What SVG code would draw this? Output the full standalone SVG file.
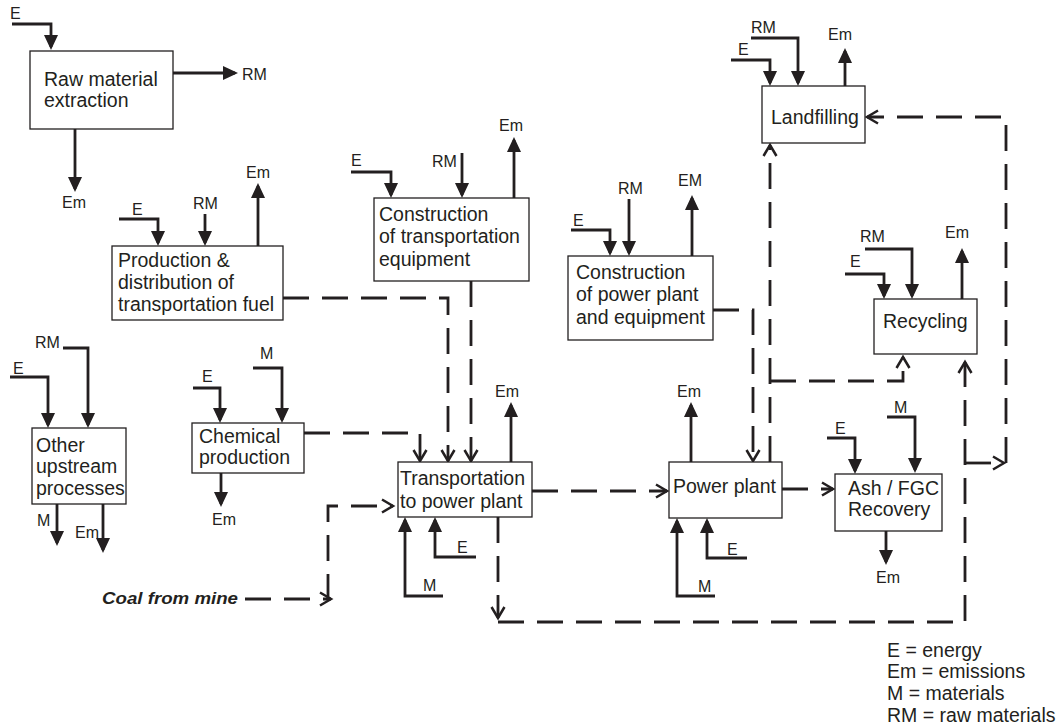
<svg xmlns="http://www.w3.org/2000/svg" width="1063" height="727" viewBox="0 0 1063 727">
<style>
.box{fill:#fff;stroke:#231f20;stroke-width:1.3}
.t{font-family:"Liberation Sans",Arial,sans-serif;font-size:19.5px;fill:#231f20}
.l{font-family:"Liberation Sans",Arial,sans-serif;font-size:16px;fill:#231f20}
.s{fill:none;stroke:#231f20;stroke-width:2.8;marker-end:url(#arr)}
.p{fill:none;stroke:#231f20;stroke-width:2.8}
.d{fill:none;stroke:#231f20;stroke-width:2.8;stroke-dasharray:26 13;marker-end:url(#chev)}
.coal{font-family:"Liberation Sans",Arial,sans-serif;font-size:17px;font-weight:bold;font-style:italic;fill:#231f20}
</style>
<defs>
<marker id="arr" markerUnits="userSpaceOnUse" markerWidth="16" markerHeight="15" refX="12" refY="7" orient="auto" overflow="visible">
<path d="M0,0 L15,7 L0,14 Z" fill="#231f20" stroke="none"/>
</marker>
<marker id="chev" markerUnits="userSpaceOnUse" markerWidth="14" markerHeight="16" refX="11" refY="6.5" orient="auto" overflow="visible">
<path d="M0,0 L11,6.5 L0,13" fill="none" stroke="#231f20" stroke-width="2.5" stroke-dasharray="none"/>
</marker>
</defs>
<rect width="1063" height="727" fill="#fff"/>

<g id="connectors">
<g id="flows">
<path class="s" d="M12,24 H51 V47"/>
<path class="s" d="M173,73 H235"/>
<path class="s" d="M75,129 V189"/>
<path class="s" d="M119,219 H158 V243"/>
<path class="s" d="M205,214 V243"/>
<path class="s" d="M258,246 V186"/>
<path class="s" d="M351,172 H391 V195"/>
<path class="s" d="M462,153 V195"/>
<path class="s" d="M514,198 V140"/>
<path class="s" d="M571,230 H610 V253"/>
<path class="s" d="M629,199 V253"/>
<path class="s" d="M692,256 V198"/>
<path class="s" d="M731,60 H770 V83"/>
<path class="s" d="M751,38 H798 V83"/>
<path class="s" d="M845,86 V51"/>
<path class="s" d="M845,274 H884 V296"/>
<path class="s" d="M865,249 H912 V296"/>
<path class="s" d="M962,299 V251"/>
<path class="s" d="M10,377 H48 V425"/>
<path class="s" d="M63,348 H88 V425"/>
<path class="s" d="M57,504 V543"/>
<path class="s" d="M103,504 V550"/>
<path class="s" d="M193,388 H220 V420"/>
<path class="s" d="M253,368 H282 V420"/>
<path class="s" d="M221,473 V504"/>
<path class="s" d="M511,462 V405"/>
<path class="s" d="M443,596 H405 V520"/>
<path class="s" d="M476,557 H435 V520"/>
<path class="s" d="M691,462 V405"/>
<path class="s" d="M715,596 H677 V521"/>
<path class="s" d="M747,558 H707 V521"/>
<path class="s" d="M827,438 H855 V471"/>
<path class="s" d="M887,417 H915 V470"/>
<path class="s" d="M886,531 V562"/>
</g>
<g id="links">
<path class="d" d="M283,298 H448 V461"/>
<path class="d" d="M471,281 V461"/>
<path class="d" d="M304,433 H420 V461"/>
<path class="d" d="M245,599 H331"/>
<path class="d" d="M328,600 V506 H393"/>
<path class="d" d="M532,491 H667"/>
<path class="d" d="M782,489 H833"/>
<path class="d" d="M713,310 H753 V461"/>
<path class="d" d="M770,462 V145"/>
<path class="d" d="M770,381 H903 V357"/>
<path class="d" d="M498,517 V618"/>
<path class="d" d="M498,622 H965 V362"/>
<path class="d" d="M965,463 H1004"/>
<path class="d" d="M1006,463 V117 H867"/>
</g>
</g>

<g id="raw-material-extraction">
<rect class="box" x="30" y="51" width="143" height="78"/>
<text class="t" x="44" y="86">Raw material</text>
<text class="t" x="44" y="107">extraction</text>
<text class="l" x="10" y="19">E</text>
<text class="l" x="242" y="80">RM</text>
<text class="l" x="62" y="208">Em</text>
</g>

<g id="transportation-fuel">
<rect class="box" x="112" y="246" width="171" height="74"/>
<text class="t" x="118" y="267">Production &amp;</text>
<text class="t" x="118" y="289">distribution of</text>
<text class="t" x="118" y="311">transportation fuel</text>
<text class="l" x="132" y="215">E</text>
<text class="l" x="193" y="209">RM</text>
<text class="l" x="246" y="178">Em</text>
</g>

<g id="transportation-equipment">
<rect class="box" x="374" y="198" width="155" height="83"/>
<text class="t" x="379" y="221">Construction</text>
<text class="t" x="379" y="243">of transportation</text>
<text class="t" x="379" y="266">equipment</text>
<text class="l" x="351" y="166">E</text>
<text class="l" x="432" y="167">RM</text>
<text class="l" x="499" y="131">Em</text>
</g>

<g id="power-plant-construction">
<rect class="box" x="568" y="256" width="145" height="84"/>
<text class="t" x="576" y="279">Construction</text>
<text class="t" x="576" y="301">of power plant</text>
<text class="t" x="576" y="324">and equipment</text>
<text class="l" x="573" y="226">E</text>
<text class="l" x="618" y="194">RM</text>
<text class="l" x="678" y="186">EM</text>
</g>

<g id="landfilling">
<rect class="box" x="762" y="86" width="103" height="57"/>
<text class="t" x="771" y="124">Landfilling</text>
<text class="l" x="738" y="55">E</text>
<text class="l" x="751" y="33">RM</text>
<text class="l" x="828" y="40">Em</text>
</g>

<g id="recycling">
<rect class="box" x="874" y="299" width="103" height="55"/>
<text class="t" x="883" y="328">Recycling</text>
<text class="l" x="850" y="267">E</text>
<text class="l" x="860" y="242">RM</text>
<text class="l" x="945" y="238">Em</text>
</g>

<g id="other-upstream">
<rect class="box" x="32" y="428" width="94" height="76"/>
<text class="t" x="36" y="452">Other</text>
<text class="t" x="36" y="473">upstream</text>
<text class="t" x="36" y="495">processes</text>
<text class="l" x="13" y="374">E</text>
<text class="l" x="35" y="348">RM</text>
<text class="l" x="37" y="526">M</text>
<text class="l" x="75" y="538">Em</text>
</g>

<g id="chemical-production">
<rect class="box" x="192" y="423" width="112" height="50"/>
<text class="t" x="199" y="443">Chemical</text>
<text class="t" x="199" y="464">production</text>
<text class="l" x="202" y="382">E</text>
<text class="l" x="260" y="359">M</text>
<text class="l" x="212" y="525">Em</text>
</g>

<g id="coal">
<text class="coal" x="102" y="604" textLength="136" lengthAdjust="spacingAndGlyphs">Coal from mine</text>
</g>

<g id="transportation">
<rect class="box" x="398" y="462" width="134" height="55"/>
<text class="t" x="400" y="485">Transportation</text>
<text class="t" x="400" y="508">to power plant</text>
<text class="l" x="495" y="397">Em</text>
<text class="l" x="423" y="591">M</text>
<text class="l" x="457" y="553">E</text>
</g>

<g id="power-plant">
<rect class="box" x="669" y="462" width="113" height="56"/>
<text class="t" x="673" y="493">Power plant</text>
<text class="l" x="677" y="397">Em</text>
<text class="l" x="698" y="592">M</text>
<text class="l" x="727" y="555">E</text>
</g>

<g id="ash-recovery">
<rect class="box" x="835" y="474" width="107" height="57"/>
<text class="t" x="848" y="495">Ash / FGC</text>
<text class="t" x="848" y="516">Recovery</text>
<text class="l" x="835" y="434">E</text>
<text class="l" x="894" y="413">M</text>
<text class="l" x="876" y="583">Em</text>
</g>

<g id="legend">
<text class="t" x="887" y="657">E = energy</text>
<text class="t" x="887" y="678">Em = emissions</text>
<text class="t" x="887" y="700">M = materials</text>
<text class="t" x="887" y="722">RM = raw materials</text>
</g>
</svg>
